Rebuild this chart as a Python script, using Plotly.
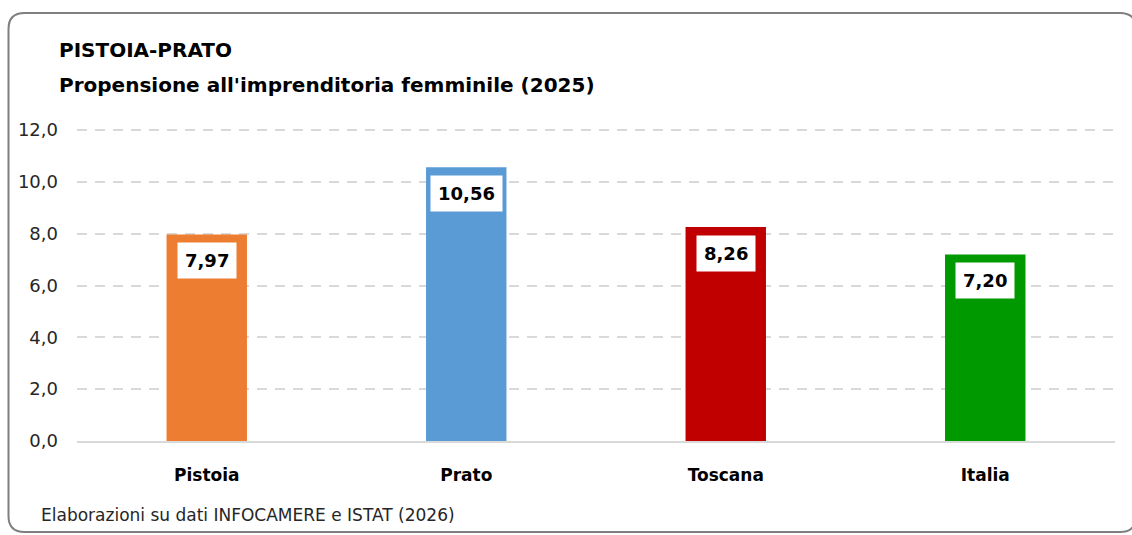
import plotly.graph_objects as go

categories = ["Pistoia", "Prato", "Toscana", "Italia"]
values = [7.97, 10.56, 8.26, 7.20]
colors = ["#ED7D31", "#5B9BD5", "#C00000", "#009900"]
tick_vals = [0, 2, 4, 6, 8, 10, 12]
title_lines = ["PISTOIA-PRATO", "Propensione all'imprenditoria femminile (2025)"]
footer = "Elaborazioni su dati INFOCAMERE e ISTAT (2026)"

W, H = 1132, 535
L, R, T, B = 77, 17, 127, 94
pw, ph = W - L - R, H - T - B
axis_top = 12 * ph / (ph - 3)

def px(x):
    return (x - L) / pw

def py(y):
    return (H - B - y) / ph

FONT = "'DejaVu Sans', sans-serif"

fig = go.Figure()
fig.add_trace(go.Bar(
    x=categories, y=values, marker=dict(color=colors, line=dict(width=0)),
    width=0.31, hoverinfo="skip", showlegend=False,
))

annotations = []
for c, v in zip(categories, values):
    annotations.append(dict(
        x=c, y=v, xref="x", yref="y", text="<b>%s</b>" % f"{v:.2f}".replace(".", ","),
        showarrow=False, yanchor="top", yshift=-8, bgcolor="white",
        borderpad=7, font=dict(family=FONT, size=18, color="#000000"),
    ))

annotations.append(dict(
    x=px(57), y=py(50), xref="paper", yref="paper", xanchor="left", yanchor="middle",
    text="<b>%s</b>" % title_lines[0], showarrow=False,
    font=dict(family=FONT, size=20, color="#000000"),
))
annotations.append(dict(
    x=px(57), y=py(85), xref="paper", yref="paper", xanchor="left", yanchor="middle",
    text="<b>%s</b>" % title_lines[1], showarrow=False,
    font=dict(family=FONT, size=20, color="#000000"),
))
annotations.append(dict(
    x=px(39), y=py(515), xref="paper", yref="paper", xanchor="left", yanchor="middle",
    text=footer, showarrow=False,
    font=dict(family=FONT, size=17, color="#262626"),
))

# rounded frame
x0, x1 = px(8.5), px(1136)
y0, y1 = py(13), py(532)
rx, ry = 16 / pw, 16 / ph
path = (
    f"M {x0},{y0 - ry} L {x0},{y1 + ry} Q {x0},{y1} {x0 + rx},{y1} "
    f"L {x1 - rx},{y1} Q {x1},{y1} {x1},{y1 + ry} "
    f"L {x1},{y0 - ry} Q {x1},{y0} {x1 - rx},{y0} "
    f"L {x0 + rx},{y0} Q {x0},{y0} {x0},{y0 - ry} Z"
)
shapes = [dict(type="path", xref="paper", yref="paper", path=path,
               line=dict(color="#7F7F7F", width=2), fillcolor="rgba(0,0,0,0)")]

fig.update_layout(
    width=W, height=H, margin=dict(l=L, r=R, t=T, b=B),
    paper_bgcolor="white", plot_bgcolor="white",
    separators=",.",
    annotations=annotations, shapes=shapes,
    font=dict(family=FONT, color="#262626"),
    xaxis=dict(
        type="category", showgrid=False, showline=True, linecolor="#D9D9D9", linewidth=2,
        ticks="", tickfont=dict(family=FONT, size=17, color="#000000", weight="bold"),
        ticklabelstandoff=18, fixedrange=True,
    ),
    yaxis=dict(
        range=[0, axis_top], tickvals=tick_vals, tickformat=".1f",
        showgrid=True, gridcolor="#D9D9D9", gridwidth=2, griddash="10px,8px",
        zeroline=False, showline=False, ticks="",
        tickfont=dict(family=FONT, size=18, color="#262626"),
        ticklabelstandoff=18, fixedrange=True,
    ),
)

fig.write_html("out.html", config={"displayModeBar": False},
               post_script="document.body.style.margin='0';document.body.style.overflow='hidden';")
